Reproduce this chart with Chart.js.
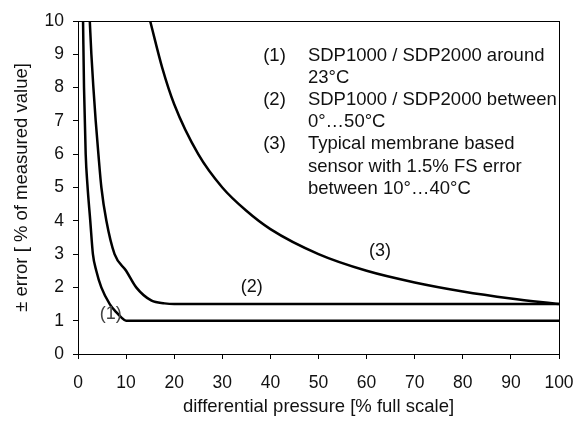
<!DOCTYPE html>
<html>
<head>
<meta charset="utf-8">
<title>SDP error vs differential pressure</title>
<script src="https://cdn.jsdelivr.net/npm/chart.js@4.4.1/dist/chart.umd.min.js"></script>
<style>
  html, body { margin: 0; padding: 0; background: #fff; }
  #wrap { width: 574px; height: 423px; }
</style>
</head>
<body>
<div id="wrap"><canvas id="chart" width="574" height="423"></canvas></div>
<script>
// values
const curve1X = [1.05, 1.25, 1.6, 1.95, 2.55, 3.1, 3.8, 4.85, 6.6, 8.0, 9.0, 10, 100];
const curve1Y = [10, 8, 6, 5.1, 4, 3, 2.5, 2, 1.5, 1.25, 1.1, 1.0, 1.0];

const curve2X = [2.45, 2.78, 3.2, 3.68, 4.24, 4.86, 5.9, 7.6, 10, 12.1, 15.3, 18, 20, 100];
const curve2Y = [10, 9, 8, 7, 6, 5, 4, 3, 2.5, 2, 1.6, 1.52, 1.5, 1.5];

const curve3X = [15, 17.5, 20, 25, 30, 35, 40, 50, 60, 70, 80, 90, 100];
const curve3Y = [10, 8.6, 7.5, 6, 5, 4.3, 3.75, 3, 2.5, 2.15, 1.88, 1.67, 1.5];

const curveTags = ['(1)', '(2)', '(3)'];
const tagX = [6.8, 36.1, 62.8];
const tagY = [1.2, 2.0, 3.1];

const legendLines = [
    ['(1)', 'SDP1000 / SDP2000 around'],
    ['', '23°C'],
    ['(2)', 'SDP1000 / SDP2000 between'],
    ['', '0°…50°C'],
    ['(3)', 'Typical membrane based'],
    ['', 'sensor with 1.5% FS error'],
    ['', 'between 10°…40°C']
];

const FONT = '"Liberation Sans", Arial, sans-serif';

function points(xs, ys) {
    return xs.map((x, i) => ({ x: x, y: ys[i] }));
}

function curve(xs, ys) {
    return {
        data: points(xs, ys),
        borderColor: '#000',
        borderWidth: 2.5,
        pointRadius: 0,
        fill: false,
        cubicInterpolationMode: 'monotone'
    };
}

// plot frame + text annotations
const annotations = {
    id: 'annotations',
    afterDatasetsDraw(chart) {
        const { ctx, chartArea: a, scales: { x, y } } = chart;
        ctx.save();
        ctx.strokeStyle = '#000';
        ctx.lineWidth = 1;
        ctx.strokeRect(a.left + 0.5, a.top + 0.5, a.right - a.left, a.bottom - a.top);

        ctx.textBaseline = 'middle';
        ctx.textAlign = 'center';
        ctx.font = '18px ' + FONT;
        curveTags.forEach((t, i) => {
            ctx.fillStyle = i === 0 ? '#444' : '#111';
            ctx.fillText(t, x.getPixelForValue(tagX[i]), y.getPixelForValue(tagY[i]));
        });

        // legend block, anchored in data space
        ctx.textAlign = 'left';
        ctx.fillStyle = '#111';
        ctx.font = '18.5px ' + FONT;
        const tagLeft = x.getPixelForValue(38.5);
        const textLeft = x.getPixelForValue(47.8);
        const firstRow = y.getPixelForValue(8.95);
        legendLines.forEach((row, i) => {
            const py = firstRow + i * 22.1;
            if (row[0]) ctx.fillText(row[0], tagLeft, py);
            ctx.fillText(row[1], textLeft, py);
        });
        ctx.restore();
    }
};

new Chart(document.getElementById('chart'), {
    type: 'line',
    data: {
        datasets: [
            curve(curve1X, curve1Y),
            curve(curve2X, curve2Y),
            curve(curve3X, curve3Y)
        ]
    },
    options: {
        responsive: false,
        animation: false,
        devicePixelRatio: 1,
        layout: { padding: { top: 21, right: 15, left: 0, bottom: 0 } },
        plugins: {
            legend: { display: false },
            tooltip: { enabled: false }
        },
        scales: {
            x: {
                type: 'linear',
                min: 0,
                max: 100,
                afterFit: s => {
                    s.height = 69;
                    s.paddingLeft = 0;
                    s.paddingRight = 0;
                },
                ticks: {
                    stepSize: 10,
                    color: '#111',
                    padding: 14,
                    maxRotation: 0,
                    font: { family: FONT, size: 17.5 }
                },
                grid: { drawOnChartArea: false, drawTicks: true, tickLength: 5, color: '#000' },
                border: { display: true, color: '#000', width: 1 },
                title: {
                    display: true,
                    text: 'differential pressure [% full scale]',
                    color: '#111',
                    font: { family: FONT, size: 18.5 },
                    padding: { top: 0, bottom: 5 }
                }
            },
            y: {
                min: 0,
                max: 10,
                afterFit: s => {
                    s.width = 78;
                    s.paddingTop = 0;
                    s.paddingBottom = 0;
                },
                ticks: {
                    stepSize: 1,
                    color: '#111',
                    padding: 9,
                    font: { family: FONT, size: 17.5 }
                },
                grid: { drawOnChartArea: false, drawTicks: true, tickLength: 5, color: '#000' },
                border: { display: true, color: '#000', width: 1 },
                title: {
                    display: true,
                    text: '± error [ % of measured value]',
                    color: '#111',
                    font: { family: FONT, size: 18.5 },
                    padding: { top: 11, bottom: 0 }
                }
            }
        }
    },
    plugins: [annotations]
});
</script>
</body>
</html>
